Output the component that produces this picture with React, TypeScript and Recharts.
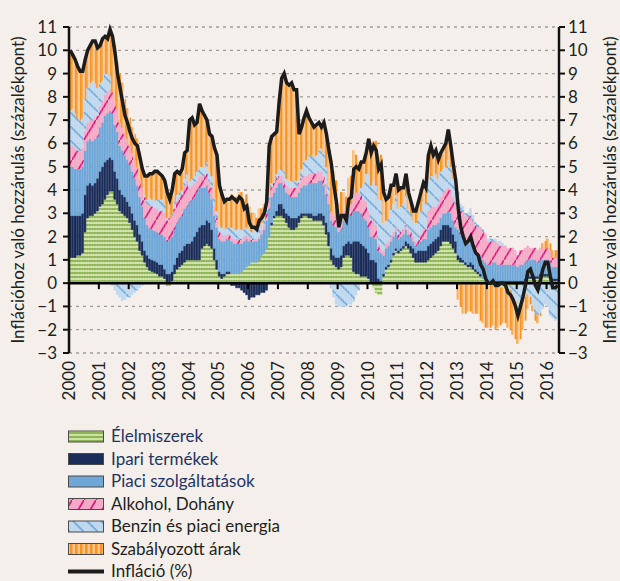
import React from 'react';
import { ComposedChart, Bar, Line, XAxis, YAxis, CartesianGrid, ReferenceLine } from 'recharts';

// monthly contributions to inflation, Jan 2000 – May 2016 (percentage points)
const years = [2000, 2001, 2002, 2003, 2004, 2005, 2006, 2007, 2008, 2009, 2010, 2011, 2012, 2013, 2014, 2015, 2016];

const elelmiszer = [
  1.1, 1.1, 1.1, 1.2, 1.2, 1.3, 2.2, 2.8, 2.9, 2.9, 3.0, 3.1,
  3.3, 3.4, 3.6, 3.8, 3.95, 3.95, 3.6, 3.4, 3.1, 3.0, 2.9, 2.8,
  2.6, 2.3, 2.0, 1.8, 1.4, 1.2, 0.9, 0.7, 0.55, 0.5, 0.45, 0.4,
  0.3, 0.3, 0.2, -0.1, -0.1, 0.1, 0.4, 0.6, 0.7, 0.8, 0.9, 1.0,
  1.0, 1.0, 1.0, 1.0, 1.0, 1.5, 1.6, 1.7, 1.6, 1.5, 1.0, 0.6,
  0.3, 0.2, 0.3, 0.4, 0.4, 0.4, 0.4, 0.4, 0.4, 0.5, 0.6, 0.7,
  0.8, 0.9, 0.9, 0.9, 1.0, 1.2, 1.3, 1.5, 2.0, 2.5, 2.8, 2.9,
  2.9, 2.9, 2.8, 2.6, 2.4, 2.3, 2.3, 2.4, 2.6, 2.8, 2.9, 2.9,
  2.8, 2.8, 2.7, 2.7, 2.7, 2.7, 2.5, 2.1, 1.6, 1.0, 0.8, 0.7,
  0.6, 0.7, 1.1, 1.2, 1.2, 1.1, 0.5, 0.4, 0.4, 0.3, 0.3, 0.3,
  0.2, 0.0, -0.2, -0.4, -0.5, -0.5, 0.3, 0.6, 0.7, 0.9, 1.2, 1.4,
  1.3, 1.4, 1.5, 1.6, 1.5, 1.3, 1.1, 0.9, 0.9, 0.9, 0.9, 0.9,
  1.0, 1.1, 1.2, 1.3, 1.4, 1.6, 1.8, 1.8, 1.8, 1.7, 1.5, 1.3,
  1.0, 0.9, 0.9, 0.8, 0.7, 0.7, 0.6, 0.5, 0.4, 0.3, 0.2, 0.1,
  0.0, 0.0, -0.1, -0.1, -0.2, -0.2, -0.2, -0.2, -0.2, -0.1, -0.1, -0.1,
  -0.1, -0.1, 0.0, 0.1, 0.2, 0.2, 0.2, 0.2, 0.2, 0.3, 0.3, 0.3,
  0.3, 0.2, 0.1, 0.1, 0.1,
];

const ipari = [
  1.8, 1.8, 1.8, 1.7, 1.7, 1.7, 1.6, 1.4, 1.4, 1.3, 1.3, 1.4,
  1.5, 1.6, 1.6, 1.5, 1.45, 1.35, 1.2, 1.1, 0.9, 0.8, 0.8, 0.7,
  0.7, 0.7, 0.7, 0.7, 0.7, 0.6, 0.5, 0.5, 0.5, 0.5, 0.5, 0.5,
  0.5, 0.5, 0.4, 0.4, 0.4, 0.4, 0.4, 0.5, 0.6, 0.6, 0.7, 0.7,
  0.7, 0.8, 1.0, 1.2, 1.4, 1.0, 0.9, 1.0, 1.0, 0.8, 0.5, 0.4,
  0.2, 0.2, 0.1, 0.1, 0.1, -0.1, -0.1, -0.2, -0.2, -0.3, -0.4, -0.5,
  -0.7, -0.6, -0.6, -0.5, -0.5, -0.4, -0.4, -0.3, 0.0, 0.1, 0.1, 0.2,
  0.5, 0.5, 0.4, 0.4, 0.5, 0.5, 0.5, 0.4, 0.3, 0.2, 0.1, 0.1,
  0.2, 0.2, 0.2, 0.2, 0.3, 0.3, 0.4, 0.5, 0.6, 0.5, 0.4, 0.4,
  0.5, 0.5, 0.5, 0.5, 0.6, 0.6, 1.3, 1.4, 1.4, 1.4, 1.3, 1.2,
  1.1, 1.0, 1.0, 0.9, 0.2, 0.1, 0.1, 0.1, 0.1, 0.1, 0.1, 0.1,
  0.1, 0.1, 0.1, 0.2, 0.2, 0.3, 0.4, 0.4, 0.5, 0.5, 0.5, 0.5,
  0.6, 0.6, 0.6, 0.6, 0.6, 0.7, 0.7, 0.7, 0.7, 0.7, 0.6, 0.5,
  0.2, 0.2, 0.1, 0.1, 0.1, 0.2, 0.2, 0.1, 0.1, 0.1, 0.0, 0.0,
  0.0, 0.0, 0.1, 0.1, 0.1, 0.1, 0.1, 0.1, 0.1, 0.1, 0.1, 0.1,
  0.1, 0.1, 0.1, 0.1, 0.1, 0.1, 0.1, 0.1, 0.1, 0.1, 0.1, 0.1,
  0.1, 0.1, 0.1, 0.1, 0.1,
];

const piaci = [
  2.1, 2.1, 2.0, 2.0, 2.0, 2.0, 1.9, 1.9, 1.9, 1.9, 1.9, 1.8,
  1.9, 1.9, 2.0, 2.0, 2.0, 2.0, 2.0, 2.0, 1.9, 1.9, 1.8, 1.8,
  1.8, 1.8, 1.8, 1.7, 1.6, 1.5, 1.4, 1.3, 1.3, 1.3, 1.3, 1.3,
  1.3, 1.3, 1.4, 1.4, 1.5, 1.5, 1.5, 1.5, 1.5, 1.5, 1.6, 1.6,
  1.8, 1.8, 1.7, 1.7, 1.7, 1.6, 1.6, 1.5, 1.3, 1.3, 1.4, 1.4,
  1.4, 1.4, 1.4, 1.4, 1.4, 1.4, 1.3, 1.3, 1.3, 1.2, 1.2, 1.2,
  1.0, 0.9, 0.9, 0.9, 0.9, 0.9, 1.0, 1.2, 1.2, 1.1, 1.0, 1.0,
  0.9, 0.9, 0.9, 0.9, 0.9, 0.9, 0.9, 0.9, 1.0, 1.1, 1.2, 1.2,
  1.3, 1.3, 1.4, 1.4, 1.4, 1.4, 1.3, 1.2, 1.2, 1.2, 1.3, 1.3,
  1.1, 1.1, 1.1, 1.1, 1.2, 1.2, 1.3, 1.3, 1.3, 1.3, 1.2, 1.2,
  1.1, 1.0, 1.0, 1.0, 1.2, 1.2, 0.8, 0.8, 0.8, 0.8, 0.7, 0.7,
  0.5, 0.5, 0.5, 0.5, 0.4, 0.4, 0.3, 0.3, 0.3, 0.4, 0.5, 0.5,
  0.7, 0.7, 0.7, 0.6, 0.6, 0.5, 0.5, 0.5, 0.6, 0.6, 0.6, 0.6,
  1.1, 1.0, 1.0, 0.9, 0.9, 0.9, 0.8, 0.8, 0.8, 0.8, 0.8, 0.8,
  0.8, 0.8, 0.8, 0.8, 0.7, 0.7, 0.7, 0.7, 0.7, 0.7, 0.7, 0.7,
  0.6, 0.7, 0.7, 0.7, 0.7, 0.7, 0.7, 0.7, 0.6, 0.6, 0.6, 0.6,
  0.6, 0.6, 0.5, 0.5, 0.5,
];

const alkohol = [
  0.9, 0.9, 0.9, 0.8, 0.8, 0.8, 0.8, 0.8, 0.8, 0.9, 0.9, 0.9,
  0.9, 0.9, 0.9, 0.9, 0.9, 0.9, 1.0, 1.0, 1.0, 1.0, 0.9, 0.9,
  0.8, 0.8, 0.8, 0.8, 0.8, 0.8, 0.9, 0.9, 1.0, 1.0, 1.0, 1.0,
  1.0, 1.0, 1.0, 0.9, 0.9, 0.9, 0.9, 0.9, 0.9, 0.9, 1.0, 1.1,
  0.6, 0.6, 0.6, 0.5, 0.5, 0.5, 0.5, 0.5, 0.5, 0.5, 0.4, 0.4,
  0.3, 0.3, 0.2, 0.2, 0.2, 0.2, 0.2, 0.2, 0.2, 0.2, 0.2, 0.2,
  0.2, 0.1, 0.1, 0.1, 0.1, 0.2, 0.2, 0.3, 0.4, 0.4, 0.4, 0.4,
  0.3, 0.3, 0.3, 0.3, 0.3, 0.4, 0.4, 0.4, 0.4, 0.4, 0.4, 0.4,
  0.4, 0.4, 0.4, 0.4, 0.4, 0.4, 0.4, 0.4, 0.4, 0.4, 0.4, 0.4,
  0.4, 0.4, 0.4, 0.4, 0.5, 0.5, 0.8, 0.8, 0.8, 0.8, 0.8, 0.8,
  0.7, 0.7, 0.7, 0.6, 0.3, 0.2, 0.2, 0.2, 0.2, 0.2, 0.2, 0.2,
  0.2, 0.2, 0.2, 0.2, 0.2, 0.2, 0.2, 0.2, 0.2, 0.3, 0.4, 0.4,
  0.8, 0.8, 0.8, 0.8, 0.8, 0.9, 0.9, 1.0, 1.0, 1.0, 1.0, 1.0,
  1.0, 1.0, 1.1, 1.1, 1.1, 1.1, 1.1, 1.1, 1.1, 1.2, 1.2, 1.2,
  1.0, 1.0, 0.9, 0.9, 0.9, 0.8, 0.8, 0.8, 0.7, 0.7, 0.7, 0.6,
  0.5, 0.6, 0.6, 0.6, 0.6, 0.5, 0.5, 0.5, 0.5, 0.5, 0.5, 0.5,
  0.5, 0.5, 0.4, 0.4, 0.4,
];

const benzin = [
  1.5, 1.6, 1.5, 1.4, 1.3, 1.3, 1.4, 1.5, 1.6, 1.7, 1.5, 1.2,
  1.0, 0.9, 0.9, 0.8, 0.6, -0.1, -0.3, -0.5, -0.6, -0.75, -0.7, -0.6,
  -0.6, -0.5, -0.4, -0.3, -0.2, -0.1, 0.1, 0.2, 0.3, 0.3, 0.3, 0.4,
  0.5, 0.5, 0.4, 0.1, 0.0, 0.1, 0.3, 0.3, 0.2, 0.2, 0.3, 0.3,
  0.3, 0.3, 0.3, 0.4, 0.4, 0.4, 0.4, 0.5, 0.4, 0.5, 0.4, 0.3,
  0.3, 0.3, 0.3, 0.3, 0.3, 0.4, 0.4, 0.4, 0.5, 0.4, 0.3, 0.3,
  0.3, 0.3, 0.4, 0.4, 0.4, 0.3, 0.3, 0.3, 0.2, 0.2, 0.1, 0.2,
  0.3, 0.3, 0.4, 0.3, 0.3, 0.3, 0.3, 0.3, 0.2, 0.4, 0.6, 0.7,
  0.8, 0.8, 0.7, 0.8, 0.9, 1.0, 1.0, 0.8, 0.4, -0.2, -0.6, -0.9,
  -1.0, -1.0, -1.0, -1.0, -0.9, -0.9, -0.8, -0.5, -0.3, 0.3, 0.7, 1.2,
  1.6, 1.5, 1.7, 1.7, 1.9, 2.1, 1.2, 1.0, 1.0, 1.2, 1.2, 1.4,
  1.1, 1.1, 1.1, 1.3, 0.9, 0.8, 0.7, 0.8, 0.9, 1.0, 1.2, 1.1,
  1.3, 1.4, 1.3, 1.4, 1.1, 1.1, 1.0, 1.0, 1.2, 1.0, 0.8, 0.8,
  0.6, 0.3, 0.2, 0.1, 0.2, 0.3, 0.2, 0.1, 0.1, 0.0, 0.1, 0.0,
  0.1, 0.1, 0.1, 0.1, 0.1, 0.2, 0.1, 0.0, -0.1, -0.2, -0.4, -0.7,
  -1.0, -1.0, -0.7, -0.6, -0.5, -0.6, -1.0, -1.3, -1.4, -1.3, -1.1, -0.9,
  -1.0, -1.4, -1.5, -1.6, -1.5,
];

const szabalyozott = [
  2.6, 2.3, 2.2, 2.2, 2.1, 2.0, 1.7, 1.6, 1.6, 1.7, 1.8, 1.7,
  1.6, 1.8, 1.6, 1.5, 2.0, 2.5, 2.4, 2.0, 2.1, 1.9, 1.5, 1.3,
  1.2, 1.1, 1.1, 1.2, 1.1, 0.9, 0.8, 1.0, 1.1, 1.1, 1.2, 1.2,
  1.1, 1.0, 1.0, 1.2, 0.9, 1.0, 1.2, 1.0, 0.8, 0.9, 1.1, 1.0,
  2.6, 2.6, 2.2, 2.1, 2.7, 2.4, 2.2, 1.8, 1.6, 1.7, 2.1, 2.4,
  1.7, 1.4, 1.2, 1.2, 1.2, 1.4, 1.4, 1.4, 1.5, 1.6, 1.3, 1.4,
  1.0, 0.8, 0.7, 0.5, 0.8, 0.6, 0.6, 0.5, 2.1, 2.0, 2.0, 1.8,
  2.9, 3.9, 4.2, 4.1, 4.1, 4.2, 3.9, 3.9, 1.9, 1.8, 1.9, 2.1,
  1.6, 1.4, 1.3, 1.3, 1.2, 0.9, 1.3, 1.4, 1.5, 2.2, 1.9, 1.6,
  0.8, 1.2, 0.8, 0.5, 1.0, 1.2, 1.8, 1.6, 1.3, 1.1, 0.9, 0.9,
  1.5, 1.4, 1.7, 1.9, 1.8, 1.9, 1.3, 0.9, 0.9, 1.0, 0.8, 0.9,
  0.8, 0.8, 0.7, 0.9, 0.7, 0.5, 0.4, 0.5, 0.7, 0.8, 0.8, 0.7,
  1.1, 1.3, 0.9, 1.0, 0.8, 0.8, 0.9, 1.0, 1.3, 0.9, 0.6, 0.2,
  -0.7, -1.0, -1.3, -1.3, -1.2, -1.2, -1.3, -1.3, -1.3, -1.6, -1.7, -1.9,
  -1.9, -1.9, -1.7, -1.9, -1.7, -1.6, -1.5, -1.5, -1.6, -1.7, -1.7, -1.6,
  -1.5, -1.3, -1.3, -1.0, -0.6, -0.3, -0.2, -0.3, -0.3, -0.1, 0.2, 0.3,
  0.4, 0.3, 0.3, 0.3, 0.3,
];

const inflacio = [
  10.0, 9.8, 9.6, 9.3, 9.1, 9.1, 9.6, 10.0, 10.2, 10.4, 10.4, 10.1,
  10.2, 10.5, 10.6, 10.5, 10.9, 10.6, 9.9, 9.0, 8.4, 7.8, 7.2, 6.9,
  6.5, 6.2, 6.0, 5.9, 5.4, 4.9, 4.6, 4.6, 4.7, 4.7, 4.8, 4.8,
  4.7, 4.6, 4.4, 3.9, 3.6, 4.0, 4.7, 4.8, 4.7, 4.9, 5.6, 5.7,
  7.0, 7.1, 6.8, 6.9, 7.7, 7.4, 7.2, 7.0, 6.4, 6.3, 5.8, 5.5,
  4.2, 3.8, 3.5, 3.6, 3.6, 3.7, 3.6, 3.5, 3.7, 3.6, 3.2, 3.3,
  2.6, 2.4, 2.4, 2.3, 2.7, 2.8, 3.0, 3.5, 5.9, 6.3, 6.4, 6.5,
  7.8, 8.8, 9.0, 8.6, 8.5, 8.6, 8.3, 8.3, 6.4, 6.7, 7.1, 7.4,
  7.1, 6.9, 6.7, 6.8, 6.9, 6.7, 6.9, 6.4, 5.7, 5.1, 4.2, 3.5,
  2.4, 2.9, 2.9, 2.7, 3.6, 3.7, 4.9, 5.0, 4.9, 5.2, 5.2, 5.6,
  6.2, 5.6, 5.9, 5.7, 4.9, 5.1, 3.9, 3.6, 3.7, 4.2, 4.2, 4.7,
  4.0, 4.1, 4.1, 4.7, 3.9, 3.5, 3.1, 3.1, 3.5, 3.9, 4.3, 4.1,
  5.5, 5.9, 5.5, 5.7, 5.3, 5.6, 5.8, 6.0, 6.6, 5.9, 5.1, 4.4,
  3.2, 2.4, 2.0, 1.7, 1.8, 2.0, 1.6, 1.3, 1.2, 0.8, 0.6, 0.2,
  0.0, 0.0, 0.1, -0.1, -0.1, 0.0, 0.0, -0.1, -0.4, -0.5, -0.7, -1.0,
  -1.4, -1.0, -0.6, -0.1, 0.5, 0.6, 0.3, -0.1, -0.3, 0.1, 0.6, 0.9,
  0.9, 0.3, -0.2, -0.2, -0.1,
];

const yTicks = [-3, -2, -1, 0, 1, 2, 3, 4, 5, 6, 7, 8, 9, 10, 11];

const months: string[] = [];
years.forEach((y) => {
  for (let m = 1; m <= 12; m++) {
    if (months.length < inflacio.length) months.push(`${y}-${String(m).padStart(2, '0')}`);
  }
});

const data = months.map((month, i) => ({
  month,
  elelmiszer: elelmiszer[i],
  ipari: ipari[i],
  piaci: piaci[i],
  alkohol: alkohol[i],
  benzin: benzin[i],
  szabalyozott: szabalyozott[i],
  inflacio: inflacio[i],
}));

const FONT = 'Lato, "Open Sans", sans-serif';
const BG = '#f5efeb';
const NAVY = '#1b2d5a';
const SERVICES = '#6fa7d8';
const TEXT = '#231f20';
const LEGEND_BLUE = '#1f3466';

const PLOT_TOP = 27;
const PLOT_H = 326;
const PLOT_W = 490;
const ZERO_Y = PLOT_TOP + (11 / 14) * PLOT_H;
const BAND = PLOT_W / months.length;

const fmt = (v: number) => (v < 0 ? `\u2212${Math.abs(v)}` : String(v));

function YearTick(props: any) {
  const { x, payload } = props;
  const v: string = payload?.value ?? '';
  if (!v.endsWith('-01')) return <g />;
  const tx = x - BAND / 2;
  return (
    <g>
      <line x1={tx} x2={tx} y1={ZERO_Y} y2={ZERO_Y + 6} stroke="#000" strokeWidth={2} />
      <text
        x={tx}
        y={361}
        transform={`rotate(-90 ${tx} 361)`}
        textAnchor="end"
        dy="0.36em"
        fontSize={17}
        fill={TEXT}
        fontFamily={FONT}
      >
        {v.slice(0, 4)}
      </text>
    </g>
  );
}

const legendItems = [
  { label: 'Élelmiszerek', fill: 'url(#patFood)', color: LEGEND_BLUE },
  { label: 'Ipari termékek', fill: NAVY, color: LEGEND_BLUE },
  { label: 'Piaci szolgáltatások', fill: SERVICES, color: LEGEND_BLUE },
  { label: 'Alkohol, Dohány', fill: 'url(#patPink)', color: TEXT },
  { label: 'Benzin és piaci energia', fill: 'url(#patFuel)', color: TEXT },
  { label: 'Szabályozott árak', fill: 'url(#patOrange)', color: TEXT },
];

const yTitle = 'Inflációhoz való hozzárulás (százalékpont)';

const axisTick = { fontSize: 17, fill: TEXT, fontFamily: FONT };

export default function App() {
  return (
    <div style={{ position: 'absolute', left: 0, top: 0, width: 620, height: 581, background: BG, fontFamily: FONT }}>
      <svg width={0} height={0} style={{ position: 'absolute' }}>
        <defs>
          <pattern id="patFood" patternUnits="userSpaceOnUse" width="8" height="4">
            <rect width="8" height="4" fill="#cde1a6" />
            <rect width="8" height="2" fill="#8db453" />
          </pattern>
          <pattern id="patPink" patternUnits="userSpaceOnUse" width="12" height="20">
            <rect width="12" height="20" fill="#f5a9c6" />
            <line x1="0" y1="20" x2="12" y2="0" stroke="#e2177d" strokeWidth="1.7" />
          </pattern>
          <pattern id="patFuel" patternUnits="userSpaceOnUse" width="14" height="14">
            <rect width="14" height="14" fill="#bed8ef" />
            <line x1="0" y1="0" x2="14" y2="14" stroke="#72abdc" strokeWidth="1.7" />
          </pattern>
          <pattern id="patOrange" patternUnits="userSpaceOnUse" width="5" height="10">
            <rect width="5" height="10" fill="#fcc58f" />
            <rect width="2.5" height="10" fill="#f7931e" />
          </pattern>
        </defs>
      </svg>

      <ComposedChart
        width={620}
        height={420}
        data={data}
        margin={{ top: PLOT_TOP, right: 0, bottom: 0, left: 0 }}
        barCategoryGap={0}
        barGap={0}
        stackOffset="sign"
      >
        <CartesianGrid yAxisId="left" vertical={false} stroke="#9d9d9d" strokeDasharray="3 4" strokeWidth={1.3} />
        <XAxis dataKey="month" interval={0} tick={<YearTick />} tickLine={false} axisLine={false} height={67} />
        <YAxis
          yAxisId="left"
          domain={[-3, 11]}
          ticks={yTicks}
          interval={0}
          width={69}
          tickFormatter={fmt}
          axisLine={{ stroke: '#111', strokeWidth: 2.5 }}
          tickLine={{ stroke: '#111', strokeWidth: 2 }}
          tickSize={6}
          tickMargin={6}
          tick={axisTick}
        />
        <YAxis
          yAxisId="right"
          orientation="right"
          domain={[-3, 11]}
          ticks={yTicks}
          interval={0}
          width={61}
          tickFormatter={fmt}
          axisLine={{ stroke: '#111', strokeWidth: 2.5 }}
          tickLine={{ stroke: '#111', strokeWidth: 2 }}
          tickSize={6}
          tickMargin={3}
          tick={axisTick}
        />
        <Bar yAxisId="left" dataKey="elelmiszer" stackId="a" fill="url(#patFood)" stroke="url(#patFood)" strokeWidth={0.6} isAnimationActive={false} />
        <Bar yAxisId="left" dataKey="ipari" stackId="a" fill={NAVY} stroke={NAVY} strokeWidth={0.6} isAnimationActive={false} />
        <Bar yAxisId="left" dataKey="piaci" stackId="a" fill={SERVICES} stroke={SERVICES} strokeWidth={0.6} isAnimationActive={false} />
        <Bar yAxisId="left" dataKey="alkohol" stackId="a" fill="url(#patPink)" stroke="url(#patPink)" strokeWidth={0.6} isAnimationActive={false} />
        <Bar yAxisId="left" dataKey="benzin" stackId="a" fill="url(#patFuel)" stroke="url(#patFuel)" strokeWidth={0.6} isAnimationActive={false} />
        <Bar yAxisId="left" dataKey="szabalyozott" stackId="a" fill="url(#patOrange)" stroke="url(#patOrange)" strokeWidth={0.6} isAnimationActive={false} />
        <ReferenceLine yAxisId="left" y={0} stroke="#000" strokeWidth={2.5} />
        {/* invisible series so the right-hand axis has data and draws its ticks */}
        <Line
          yAxisId="right"
          type="linear"
          dataKey="inflacio"
          stroke="none"
          dot={false}
          activeDot={false}
          legendType="none"
          isAnimationActive={false}
        />
        <Line
          yAxisId="left"
          type="linear"
          dataKey="inflacio"
          stroke="#1c1c1c"
          strokeWidth={3.5}
          dot={false}
          isAnimationActive={false}
        />
      </ComposedChart>

      <svg width={620} height={581} style={{ position: 'absolute', left: 0, top: 0, pointerEvents: 'none' }}>
        <text x={18} y={190} transform="rotate(-90 18 190)" textAnchor="middle" dy="0.35em" fontSize={17} fill={TEXT} fontFamily={FONT}>
          {yTitle}
        </text>
        <text x={610} y={190} transform="rotate(-90 610 190)" textAnchor="middle" dy="0.35em" fontSize={17} fill={TEXT} fontFamily={FONT}>
          {yTitle}
        </text>
        {legendItems.map((it, i) => {
          const cy = 436.5 + i * 22.5;
          return (
            <g key={it.label}>
              <rect x={68.5} y={cy - 5.5} width={35} height={11} fill={it.fill} stroke="#4a4a4a" strokeWidth={1} />
              <text x={111} y={cy} dy="0.35em" fontSize={17} fill={it.color} fontFamily={FONT}>
                {it.label}
              </text>
            </g>
          );
        })}
        <line x1={68} x2={104} y1={571.5} y2={571.5} stroke="#1c1c1c" strokeWidth={4} />
        <text x={111} y={571.5} dy="0.35em" fontSize={17} fill={TEXT} fontFamily={FONT}>
          Infláció (%)
        </text>
      </svg>
    </div>
  );
}
